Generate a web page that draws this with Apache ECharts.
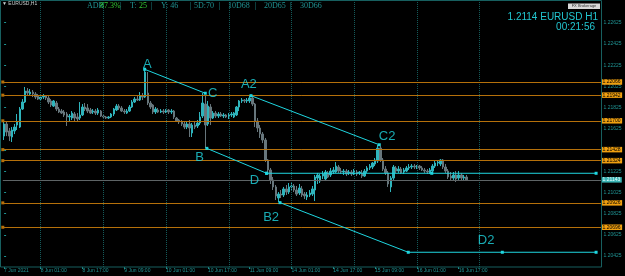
<!DOCTYPE html>
<html><head><meta charset="utf-8">
<script src="https://cdn.jsdelivr.net/npm/echarts@6/dist/echarts.min.js"></script>
<style>html,body{margin:0;padding:0;background:#000;}#c{width:625px;height:276px;}</style>
</head><body><div id="c"></div>
<script>
const opens = [1.21556,1.21670,1.21604,1.21547,1.21604,1.21660,1.21641,1.21811,1.21877,1.21981,1.21953,1.21971,1.21953,1.21934,1.21905,1.21924,1.21934,1.21915,1.21887,1.21839,
1.21868,1.21811,1.21792,1.21783,1.21764,1.21736,1.21726,1.21764,1.21736,1.21726,1.21755,1.21830,1.21821,1.21802,1.21783,1.21792,1.21773,1.21792,1.21745,1.21736,
1.21726,1.21736,1.21764,1.21802,1.21839,1.21821,1.21792,1.21773,1.21792,1.21830,1.21877,1.21905,1.21896,1.21934,1.21924,1.21962,1.21868,1.21849,1.21783,1.21802,
1.21783,1.21792,1.21783,1.21802,1.21783,1.21792,1.21726,1.21707,1.21689,1.21670,1.21641,1.21670,1.21585,1.21660,1.21651,1.21679,1.21745,1.21858,1.21670,1.21830,
1.21726,1.21773,1.21745,1.21764,1.21745,1.21755,1.21736,1.21755,1.21736,1.21755,1.21830,1.21887,1.21896,1.21887,1.21887,1.21915,1.21858,1.21698,1.21632,1.21575,
1.21519,1.21330,1.21236,1.21142,1.21076,1.20972,1.21009,1.21000,1.21057,1.21028,1.21076,1.21085,1.21047,1.21019,1.21057,1.21009,1.20981,1.21000,1.21009,1.21047,
1.21160,1.21132,1.21179,1.21151,1.21208,1.21189,1.21217,1.21217,1.21264,1.21226,1.21217,1.21226,1.21208,1.21217,1.21198,1.21217,1.21208,1.21208,1.21179,1.21226,
1.21255,1.21264,1.21292,1.21321,1.21443,1.21330,1.21245,1.21208,1.21076,1.21160,1.21255,1.21226,1.21245,1.21217,1.21226,1.21255,1.21264,1.21273,1.21264,1.21273,
1.21255,1.21236,1.21226,1.21208,1.21226,1.21273,1.21302,1.21292,1.21330,1.21264,1.21226,1.21179,1.21160,1.21189,1.21160,1.21189,1.21160,1.21170];
const closes = [1.21670,1.21594,1.21556,1.21613,1.21641,1.21689,1.21811,1.21877,1.21981,1.21962,1.21971,1.21953,1.21924,1.21905,1.21924,1.21934,1.21915,1.21877,1.21849,1.21887,
1.21811,1.21783,1.21773,1.21755,1.21736,1.21745,1.21773,1.21726,1.21717,1.21755,1.21830,1.21811,1.21792,1.21773,1.21792,1.21773,1.21802,1.21745,1.21736,1.21726,
1.21736,1.21764,1.21811,1.21839,1.21821,1.21792,1.21783,1.21792,1.21830,1.21877,1.21905,1.21896,1.21934,1.21924,1.22160,1.21868,1.21830,1.21783,1.21811,1.21783,
1.21792,1.21783,1.21802,1.21783,1.21792,1.21736,1.21698,1.21689,1.21670,1.21641,1.21670,1.21632,1.21660,1.21641,1.21679,1.21736,1.21868,1.21660,1.21839,1.21726,
1.21773,1.21745,1.21764,1.21745,1.21755,1.21736,1.21755,1.21764,1.21773,1.21830,1.21887,1.21896,1.21887,1.21896,1.21915,1.21858,1.21698,1.21632,1.21575,1.21519,
1.21330,1.21236,1.21142,1.21076,1.20991,1.21009,1.21000,1.21057,1.21028,1.21076,1.21085,1.21047,1.21009,1.21066,1.21000,1.20991,1.21000,1.21019,1.21057,1.21170,
1.21189,1.21179,1.21198,1.21217,1.21170,1.21226,1.21236,1.21273,1.21226,1.21217,1.21226,1.21198,1.21217,1.21198,1.21226,1.21198,1.21217,1.21179,1.21226,1.21255,
1.21273,1.21302,1.21330,1.21443,1.21330,1.21245,1.21208,1.21104,1.21160,1.21264,1.21226,1.21245,1.21208,1.21236,1.21255,1.21264,1.21273,1.21264,1.21273,1.21255,
1.21236,1.21226,1.21217,1.21236,1.21273,1.21302,1.21311,1.21330,1.21264,1.21226,1.21170,1.21160,1.21189,1.21151,1.21189,1.21160,1.21170,1.21143];
const highs = [1.21698,1.21689,1.21632,1.21641,1.21670,1.21764,1.21830,1.21905,1.22019,1.22009,1.22000,1.21990,1.21971,1.21953,1.21943,1.21953,1.21943,1.21934,1.21905,1.21896,
1.21887,1.21830,1.21811,1.21802,1.21783,1.21764,1.21792,1.21783,1.21773,1.21877,1.21858,1.21868,1.21858,1.21821,1.21811,1.21811,1.21821,1.21802,1.21755,1.21745,
1.21745,1.21773,1.21821,1.21858,1.21858,1.21839,1.21811,1.21811,1.21849,1.21896,1.21924,1.21934,1.21971,1.21962,1.22188,1.22160,1.21887,1.21858,1.21830,1.21821,
1.21811,1.21811,1.21811,1.21811,1.21811,1.21802,1.21736,1.21717,1.21707,1.21689,1.21689,1.21707,1.21679,1.21698,1.21707,1.21783,1.21962,1.21943,1.21887,1.21858,
1.21792,1.21792,1.21783,1.21783,1.21773,1.21764,1.21773,1.21783,1.21783,1.21839,1.21896,1.21915,1.21905,1.21915,1.21934,1.21934,1.21868,1.21726,1.21660,1.21594,
1.21538,1.21339,1.21255,1.21170,1.21094,1.21028,1.21047,1.21076,1.21094,1.21113,1.21123,1.21104,1.21085,1.21104,1.21085,1.21028,1.21028,1.21047,1.21085,1.21189,
1.21208,1.21198,1.21226,1.21236,1.21226,1.21255,1.21264,1.21311,1.21283,1.21255,1.21245,1.21245,1.21236,1.21236,1.21245,1.21236,1.21226,1.21236,1.21245,1.21273,
1.21292,1.21311,1.21349,1.21472,1.21462,1.21349,1.21273,1.21226,1.21179,1.21283,1.21273,1.21273,1.21264,1.21255,1.21273,1.21292,1.21292,1.21292,1.21283,1.21283,
1.21273,1.21255,1.21245,1.21255,1.21292,1.21321,1.21330,1.21339,1.21339,1.21292,1.21245,1.21217,1.21217,1.21226,1.21226,1.21208,1.21189,1.21189];
const lows = [1.21519,1.21556,1.21509,1.21500,1.21575,1.21613,1.21632,1.21802,1.21868,1.21943,1.21934,1.21924,1.21905,1.21896,1.21896,1.21905,1.21896,1.21858,1.21830,1.21830,
1.21792,1.21773,1.21764,1.21736,1.21651,1.21698,1.21707,1.21689,1.21698,1.21707,1.21745,1.21792,1.21773,1.21764,1.21764,1.21755,1.21755,1.21736,1.21717,1.21717,
1.21717,1.21726,1.21745,1.21792,1.21802,1.21783,1.21764,1.21764,1.21783,1.21821,1.21868,1.21887,1.21887,1.21896,1.21915,1.21849,1.21811,1.21764,1.21764,1.21773,
1.21773,1.21764,1.21773,1.21764,1.21764,1.21717,1.21689,1.21670,1.21651,1.21622,1.21622,1.21547,1.21547,1.21622,1.21632,1.21660,1.21726,1.21443,1.21651,1.21660,
1.21717,1.21726,1.21726,1.21736,1.21726,1.21726,1.21717,1.21736,1.21726,1.21745,1.21792,1.21868,1.21868,1.21868,1.21868,1.21839,1.21641,1.21594,1.21538,1.21490,
1.21311,1.21198,1.21104,1.21047,1.20953,1.20934,1.20972,1.20981,1.21000,1.21009,1.21038,1.21028,1.20991,1.21000,1.20981,1.20962,1.20953,1.20981,1.20991,1.20943,
1.21104,1.21113,1.21151,1.21132,1.21160,1.21170,1.21198,1.21208,1.21208,1.21198,1.21189,1.21179,1.21189,1.21179,1.21189,1.21179,1.21189,1.21160,1.21170,1.21208,
1.21236,1.21245,1.21273,1.21302,1.21311,1.21226,1.21189,1.21076,1.21028,1.21142,1.21208,1.21208,1.21198,1.21198,1.21217,1.21236,1.21245,1.21245,1.21245,1.21236,
1.21226,1.21208,1.21198,1.21198,1.21217,1.21255,1.21273,1.21273,1.21245,1.21208,1.21151,1.21142,1.21142,1.21123,1.21142,1.21132,1.21132,1.21132];

const barCount = 229;
const tickBars = [0,14,30,46,62,78,94,110,126,142,158,174];
const tickLabels = ['7 Jun 2021','8 Jun 01:00','8 Jun 17:00','9 Jun 09:00','10 Jun 01:00','10 Jun 17:00','11 Jun 09:00','14 Jun 01:00','14 Jun 17:00','15 Jun 09:00','16 Jun 01:00','16 Jun 17:00'];
const gridBars = [14,38,62,86,110,134,158,182];
const priceTicks = [1.20425,1.20625,1.20825,1.21025,1.21225,1.21425,1.21625,1.21825,1.22025,1.22225,1.22425,1.22625];
const levelPrices = [1.22066,1.21942,1.21700,1.21428,1.21324,1.20926,1.20696];
const bidPrice = 1.21143;
const lineAC = [[53.8,1.22186],[77,1.21960]];
const lineBD = [[77.6,1.21440],[100.5,1.21205]];
const lineD = [[100.5,1.21205],[163.7,1.21205],[226.6,1.21205]];
const lineA2C2 = [[94.5,1.21937],[143.6,1.21474]];
const lineB2D2 = [[105.6,1.20928],[154.7,1.20460],[190.7,1.20460],[226.6,1.20460]];
const pointNames = ['A','C','A2','C2','B','D','B2','D2'];
const pointBars = [54.8,79.8,93.7,146.6,74.8,95.8,102.2,184.5];
const pointPrices = [1.22229,1.21959,1.22040,1.21550,1.21354,1.21142,1.20793,1.20576];

const categories = Array.from({length: barCount}, (_, i) => {
  const k = tickBars.indexOf(i);
  return k >= 0 ? tickLabels[k] : '';
});
const candles = opens.map((o, i) => [o, closes[i], lows[i], highs[i]]);

const TEAL = '#1f9393';
const FRAME = '#175f5f';
const CYAN = '#1fd6e0';
const ORANGE_LINE = '#b5700a';
const ORANGE_BOX = '#f0a010';

function trend(data) {
  return {
    type: 'line', xAxisIndex: 1, yAxisIndex: 0, data: data,
    symbol: 'rect', symbolSize: 3, showAllSymbol: true,
    lineStyle: {color: CYAN, width: 1}, itemStyle: {color: CYAN},
    silent: true, z: 5
  };
}
const boxLabel = (txt, bg, fg) => ({show: true, position: 'end', formatter: txt, backgroundColor: bg, color: fg, fontSize: 5, padding: [0.5, 1.5, 0, 1.5], distance: 0, fontFamily: 'Liberation Sans'});

const chart = echarts.init(document.getElementById('c'), null, {renderer: 'canvas'});
chart.setOption({
  backgroundColor: '#000',
  animation: false,
  grid: {left: 2.8, right: 23.94, top: 1, bottom: 9, show: false},
  xAxis: [{
    type: 'category', data: categories, boundaryGap: true,
    axisLine: {show: false},
    axisTick: {show: true, alignWithLabel: true, interval: (i) => tickBars.includes(i), length: 2, lineStyle: {color: TEAL}},
    axisLabel: {show: true, interval: (i) => tickBars.includes(i), align: 'left', fontSize: 5, color: TEAL, margin: 1.5, fontFamily: 'Liberation Sans'},
    splitLine: {show: false}
  }, {
    type: 'value', min: -0.5, max: barCount - 0.5, show: false
  }],
  yAxis: {
    type: 'value', position: 'right', min: 1.20321, max: 1.22830,
    axisLine: {show: false},
    axisTick: {show: true, customValues: priceTicks, length: 2, lineStyle: {color: TEAL}},
    axisLabel: {customValues: priceTicks, formatter: v => v.toFixed(5), fontSize: 5, color: TEAL, margin: 2.5, fontFamily: 'Liberation Sans'},
    splitLine: {show: false}
  },
  series: [
    {
      type: 'candlestick', xAxisIndex: 0, data: candles, barWidth: 2,
      itemStyle: {color: '#2fb4bc', color0: '#67767c', borderColor: '#2fb4bc', borderColor0: '#67767c', borderWidth: 1},
      z: 3
    },
    Object.assign(trend(lineAC), {
      markLine: {
        silent: true, animation: false, symbol: 'none', precision: 6,
        label: {show: false},
        data: gridBars.map(b => ({xAxis: b, lineStyle: {color: '#145a5a', type: 'dotted', width: 1}, label: {show: false}}))
          .concat(levelPrices.map(p => ({
            yAxis: p, symbol: ['rect', 'none'], symbolSize: 3,
            lineStyle: {color: ORANGE_LINE, width: 1, type: 'solid'},
            itemStyle: {color: '#e8b020'},
            label: boxLabel(p.toFixed(5), ORANGE_BOX, '#000')
          })))
          .concat([{
            yAxis: bidPrice,
            lineStyle: {color: '#5e6466', width: 1, type: 'solid'},
            label: boxLabel(bidPrice.toFixed(5), '#3ab4b4', '#e8ffff')
          }])
      }
    }),
    trend(lineBD),
    trend(lineD),
    trend(lineA2C2),
    trend(lineB2D2),
    {
      type: 'scatter', xAxisIndex: 1, yAxisIndex: 0, silent: true, z: 6,
      symbolSize: 1, itemStyle: {color: 'rgba(0,0,0,0)'},
      data: pointNames.map((n, i) => [pointBars[i], pointPrices[i], n]),
      label: {show: true, position: 'inside', formatter: p => p.value[2], color: CYAN, fontSize: 13, fontFamily: 'Liberation Sans'}
    }
  ],
  graphic: [
    {type: 'rect', z: 10, silent: true, shape: {x: 0.5, y: 0.5, width: 601, height: 266.5}, style: {fill: 'none', stroke: FRAME, lineWidth: 1}},
    {type: 'text', z: 10, left: 2, top: 1, style: {text: '\u25BC EURUSD,H1', fill: '#c8d0d0', font: '5px "Liberation Sans"'}},
    {type: 'text', z: 10, x: 87, y: 6, style: {text: 'ADR', fill: TEAL, font: '8px "Liberation Serif"', verticalAlign: 'middle'}},
    {type: 'text', z: 10, x: 100, y: 6, style: {text: '87.3%', fill: '#33cc33', font: '8px "Liberation Serif"', verticalAlign: 'middle'}},
    {type: 'text', z: 10, x: 120, y: 6, style: {text: '|', fill: TEAL, font: '8px "Liberation Serif"', verticalAlign: 'middle'}},
    {type: 'text', z: 10, x: 130, y: 6, style: {text: 'T:', fill: TEAL, font: '8px "Liberation Serif"', verticalAlign: 'middle'}},
    {type: 'text', z: 10, x: 139, y: 6, style: {text: '25', fill: '#33cc33', font: '8px "Liberation Serif"', verticalAlign: 'middle'}},
    {type: 'text', z: 10, x: 151, y: 6, style: {text: '|', fill: TEAL, font: '8px "Liberation Serif"', verticalAlign: 'middle'}},
    {type: 'text', z: 10, x: 161, y: 6, style: {text: 'Y: 46', fill: TEAL, font: '8px "Liberation Serif"', verticalAlign: 'middle'}},
    {type: 'text', z: 10, x: 190, y: 6, style: {text: '|', fill: TEAL, font: '8px "Liberation Serif"', verticalAlign: 'middle'}},
    {type: 'text', z: 10, x: 194, y: 6, style: {text: '5D:70', fill: TEAL, font: '8px "Liberation Serif"', verticalAlign: 'middle'}},
    {type: 'text', z: 10, x: 219, y: 6, style: {text: '|', fill: TEAL, font: '8px "Liberation Serif"', verticalAlign: 'middle'}},
    {type: 'text', z: 10, x: 228, y: 6, style: {text: '10D68', fill: TEAL, font: '8px "Liberation Serif"', verticalAlign: 'middle'}},
    {type: 'text', z: 10, x: 255, y: 6, style: {text: '|', fill: TEAL, font: '8px "Liberation Serif"', verticalAlign: 'middle'}},
    {type: 'text', z: 10, x: 264, y: 6, style: {text: '20D65', fill: TEAL, font: '8px "Liberation Serif"', verticalAlign: 'middle'}},
    {type: 'text', z: 10, x: 290, y: 6, style: {text: '|', fill: TEAL, font: '8px "Liberation Serif"', verticalAlign: 'middle'}},
    {type: 'text', z: 10, x: 300, y: 6, style: {text: '30D66', fill: TEAL, font: '8px "Liberation Serif"', verticalAlign: 'middle'}},
    {type: 'rect', z: 10, silent: true, shape: {x: 568, y: 3.5, width: 32, height: 5.5}, style: {fill: '#d8d8d8'}},
    {type: 'text', z: 11, x: 584, y: 6.3, style: {text: 'FX Brokerage', fill: '#333', font: '4px "Liberation Sans"', align: 'center', verticalAlign: 'middle'}},
    {type: 'text', z: 10, x: 598, y: 16.8, style: {text: '1.2114 EURUSD H1', fill: '#22c6d0', font: '10px "Liberation Sans"', align: 'right', verticalAlign: 'middle'}},
    {type: 'text', z: 10, x: 595, y: 27.6, style: {text: '00:21:56', fill: '#22c6d0', font: '10px "Liberation Sans"', align: 'right', verticalAlign: 'middle'}}
  ]
});
</script>
</body></html>
